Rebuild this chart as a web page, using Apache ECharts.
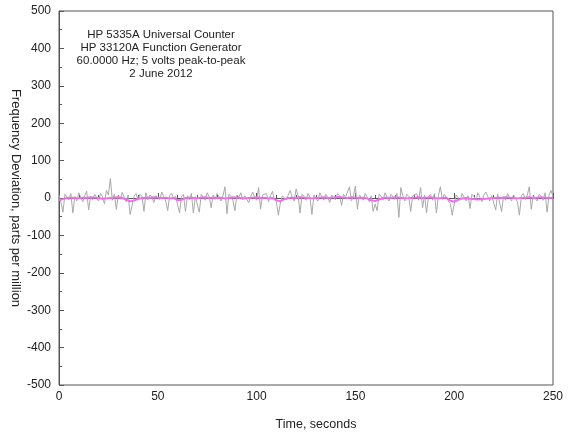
<!DOCTYPE html>
<html>
<head>
<meta charset="utf-8">
<script src="https://cdn.jsdelivr.net/npm/echarts@6/dist/echarts.min.js"></script>
<style>
  html, body { margin: 0; padding: 0; background: #fff; }
  #chart { width: 569px; height: 433px; }
</style>
</head>
<body>
<div id="chart"></div>
<script>
// raw counter readings, one per second (ppm)
var rawPpm = [
  8, -12, -38, 10, 6, -5, 12, -40, 4, -8,
  14, 3, -10, 6, 18, -32, 5, -6, 10, 2,
  -8, 12, 4, -15, 20, 8, 52, -6, 10, -30,
  6, -4, 15, 2, -10, 8, -44, -20, 5, 12,
  -6, 10, 4, -36, 14, -5, 8, 2, -12, 6,
  10, -4, 16, 3, -8, -34, 6, 12, -2, 5,
  8, -40, 4, 10, -36, 6, -5, 12, -40, 4,
  8, -38, 10, 2, -6, 14, 4, -26, 8, -4,
  12, 3, -8, 6, 30, -42, 10, 4, -6, -34,
  8, 2, 14, -5, 6, 10, -12, 4, 16, 2,
  -6, 28, -30, 8, 4, 12, -10, 6, 18, -4,
  -10, -46, -14, 6, 10, -5, 8, 20, 2, -8,
  24, 6, -40, 10, 4, -6, 12, 2, -44, 8,
  5, -8, 14, 3, -6, 10, 2, -12, 8, 4,
  -5, 12, 6, -20, 10, 2, 16, 30, -8, 6,
  32, -30, 8, 4, -6, 12, 2, -10, 6, -36,
  -16, -34, 10, 4, -6, 14, 2, -8, 10, 6,
  -4, 12, -52, 28, 6, -8, 10, 4, -36, 6,
  2, 12, -6, 28, -26, 8, -40, 4, 10, -6,
  12, -40, 6, 30, -4, 10, 2, -8, -14, -46,
  -16, 8, 4, -6, 12, 2, -8, 6, -28, 10,
  4, -6, 14, 2, -10, 8, 16, 4, -8, 6,
  2, -32, 10, 6, -36, 4, -6, 12, 2, -8,
  8, 4, -10, -46, 6, 12, -4, 8, 30, -30,
  6, 2, -8, 10, 4, -6, 14, -38, 8, 20,
  4
]
// smoothed trace, one point every 2 seconds
var smoothPpm = [
  -6, -3, 0, 1, 0, -1, 1, 0, 2, 1,
  0, -2, -1, 0, 1, 2, 0, -4, -9, -7,
  -2, 0, 1, 0, 2, 1, 0, 1, -1, 0,
  -6, -5, 0, 1, 0, -1, 1, 2, 0, 1,
  0, 1, -1, 0, 2, 1, 0, -1, 0, 1,
  2, 0, 1, -1, 0, -6, -9, -3, 0, 1,
  0, 2, 1, 0, -1, 0, 1, 2, 0, 1,
  2, 3, 1, 0, 2, 1, 0, 1, -1, -6,
  -8, -4, 0, 1, 0, 2, 1, 0, -1, 0,
  1, 2, 0, 1, 2, 0, -1, 0, 1, -7,
  -10, -5, -1, 0, -2, -3, -4, -3, -2, -1,
  0, 1, 0, 2, 1, 0, -1, 0, 1, 2,
  0, 1, 2, 1, 0, 1
]
var smoothStep = 2
var titleLines = [
  'HP 5335A Universal Counter',
  'HP 33120A Function Generator',
  '60.0000 Hz; 5 volts peak-to-peak',
  '2 June 2012'
]

var chart = echarts.init(document.getElementById('chart'))
var axisColor = '#555'
var font = 'Liberation Sans, Arial, sans-serif'
var labelStyle = { color: '#222', fontSize: 12, fontFamily: font }

chart.setOption({
  animation: false,
  title: {
    text: titleLines.join('\n'),
    left: 156,
    top: 23,
    textAlign: 'center',
    textStyle: {
      fontSize: 11.5,
      fontWeight: 'normal',
      color: '#222',
      lineHeight: 13,
      fontFamily: font
    }
  },
  grid: {
    left: 59,
    right: 16,
    top: 11,
    bottom: 48,
    outerBoundsMode: 'none',
    show: true,
    borderColor: axisColor,
    borderWidth: 1,
    backgroundColor: 'transparent'
  },
  xAxis: {
    type: 'value',
    min: 0,
    max: 250,
    interval: 50,
    name: 'Time, seconds',
    nameLocation: 'middle',
    nameGap: 33,
    nameMoveOverlap: false,
    nameTextStyle: { color: '#222', fontSize: 12.5, fontFamily: font, padding: [0, 0, 0, 20] },
    axisLine: { lineStyle: { color: axisColor } },
    axisTick: { inside: true, length: 5, lineStyle: { color: axisColor } },
    minorTick: { show: true, splitNumber: 5, length: 3, lineStyle: { color: axisColor } },
    axisLabel: Object.assign({ margin: 6 }, labelStyle),
    splitLine: { show: false }
  },
  yAxis: {
    type: 'value',
    min: -500,
    max: 500,
    interval: 100,
    name: 'Frequency Deviation, parts per million',
    nameLocation: 'middle',
    nameRotate: -90,
    nameGap: 37,
    nameMoveOverlap: false,
    nameTextStyle: { color: '#222', fontSize: 13, fontFamily: font },
    axisLine: { show: true, lineStyle: { color: axisColor } },
    axisTick: { show: true, inside: true, length: 5, lineStyle: { color: axisColor } },
    minorTick: { show: true, splitNumber: 2, length: 3, lineStyle: { color: axisColor } },
    axisLabel: Object.assign({ margin: 8 }, labelStyle),
    splitLine: { show: false }
  },
  series: [
    {
      type: 'line',
      data: rawPpm.map(function (v, i) { return [i, v] }),
      showSymbol: false,
      lineStyle: { color: '#a8a8a8', width: 1 },
      z: 2
    },
    {
      type: 'line',
      data: smoothPpm.map(function (v, i) { return [i * smoothStep, v] }),
      showSymbol: false,
      lineStyle: { color: '#f06cf0', width: 2 },
      z: 3
    }
  ]
})
</script>
</body>
</html>
